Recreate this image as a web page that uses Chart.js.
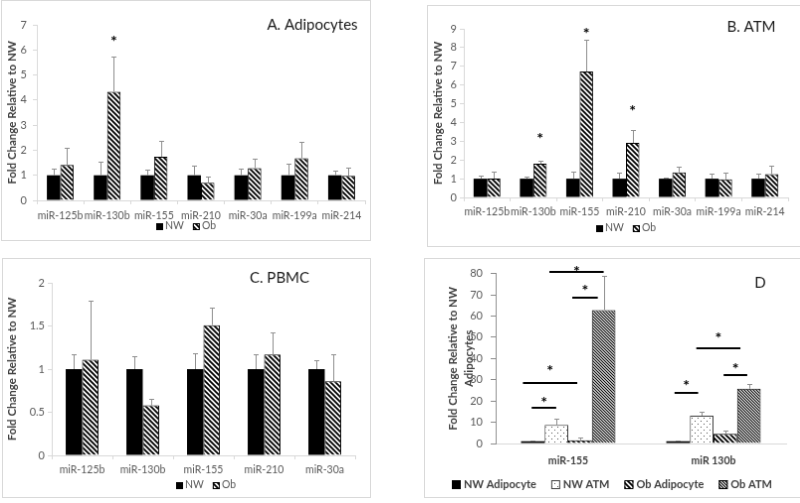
<!DOCTYPE html>
<html>
<head>
<meta charset="utf-8">
<script src="https://cdn.jsdelivr.net/npm/chart.js@4.4.1/dist/chart.umd.min.js"></script>
<style>
  body { margin: 0; background: #fff; width: 800px; height: 503px; overflow: hidden; position: relative; }
  canvas { position: absolute; border: 1px solid #d9d9d9; background: #fff; }
</style>
</head>
<body>
<canvas id="chartA" width="370" height="241" style="left:1px;top:0px"></canvas>
<canvas id="chartB" width="380" height="242" style="left:427px;top:5px"></canvas>
<canvas id="chartC" width="369" height="240" style="left:2px;top:258px"></canvas>
<canvas id="chartD" width="380" height="240" style="left:424px;top:258px"></canvas>
<script>
const FONT = 'Lato, "Open Sans", sans-serif';

// ---- A. Adipocytes ----
const miRsAB = ['miR-125b', 'miR-130b', 'miR-155', 'miR-210', 'miR-30a', 'miR-199a', 'miR-214'];
const adipNW = [1, 1, 1, 1, 1, 1, 1];
const adipNWErr = [1.28, 1.54, 1.21, 1.40, 1.25, 1.45, 1.17];
const adipOb = [1.41, 4.33, 1.74, 0.70, 1.29, 1.68, 0.98];
const adipObErr = [2.09, 5.75, 2.36, 0.93, 1.65, 2.33, 1.32];
const adipStars = [null, 6.49, null, null, null, null, null];
const adipTicks = [0, 1, 2, 3, 4, 5, 6, 7];

// ---- B. ATM ----
const atmNW = [1, 1, 1, 1, 1, 1, 1];
const atmNWErr = [1.16, 1.12, 1.37, 1.30, 1.05, 1.25, 1.29];
const atmOb = [1.00, 1.80, 6.72, 2.91, 1.34, 0.96, 1.25];
const atmObErr = [1.39, 1.95, 8.40, 3.59, 1.64, 1.32, 1.68];
const atmStars = [null, 3.33, 8.95, 4.82, null, null, null];
const atmTicks = [0, 1, 2, 3, 4, 5, 6, 7, 8, 9];

// ---- C. PBMC ----
const miRsC = ['miR-125b', 'miR-130b', 'miR-155', 'miR-210', 'miR-30a'];
const pbmcNW = [1, 1, 1, 1, 1];
const pbmcNWErr = [1.17, 1.15, 1.18, 1.17, 1.10];
const pbmcOb = [1.11, 0.58, 1.51, 1.17, 0.86];
const pbmcObErr = [1.79, 0.66, 1.71, 1.42, 1.17];
const pbmcTicks = [0, 0.5, 1, 1.5, 2];

// ---- D. cell type comparison ----
const dCats = ['miR-155', 'miR 130b'];
const dNWAdip = [1, 1];
const dNWAdipErr = [1.2, 1.6];
const dNWATM = [8.8, 13.1];
const dNWATMErr = [11.9, 15.1];
const dObAdip = [1.5, 4.5];
const dObAdipErr = [2.6, 6.0];
const dObATM = [62.8, 25.8];
const dObATMErr = [78.7, 27.9];
const dTicks = [0, 10, 20, 30, 40, 50, 60, 70, 80];
// significance brackets: [category, from bar, to bar (in bar widths), line value, star value]
const dSig = [
  [0, 0.45, 1.49, 16.8, 21.3],
  [0, 0.08, 2.38, 28.7, 35.9],
  [0, 2.17, 3.25, 68.6, 73.7],
  [0, 1.20, 3.50, 80.9, 82.9],
  [1, 0.35, 1.35, 23.6, 29.0],
  [1, 1.27, 3.14, 45.0, 51.2],
  [1, 2.43, 3.43, 32.4, 36.9]
];

// hatch fills
function stripes(size, lw) {
  const c = document.createElement('canvas');
  c.width = c.height = size;
  const g = c.getContext('2d');
  g.fillStyle = '#fff';
  g.fillRect(0, 0, size, size);
  g.strokeStyle = '#000';
  g.lineWidth = lw;
  g.beginPath();
  for (let k = -size; k <= size; k += size) {
    g.moveTo(k - 1, -1);
    g.lineTo(k + size + 1, size + 1);
  }
  g.stroke();
  return g.createPattern(c, 'repeat');
}
function dots(size) {
  const c = document.createElement('canvas');
  c.width = c.height = size;
  const g = c.getContext('2d');
  g.fillStyle = '#fff';
  g.fillRect(0, 0, size, size);
  g.fillStyle = '#555';
  g.fillRect(1, 1, 1, 1);
  g.fillRect(1 + size / 2, 1 + size / 2, 1, 1);
  return g.createPattern(c, 'repeat');
}
const obFill = stripes(5, 1.8);
const denseFill = stripes(3, 1.1);
const dotFill = dots(6);

// error bars, stars, brackets, panel label and legend
const extras = {
  id: 'extras',
  afterDatasetsDraw(chart, args, o) {
    const ctx = chart.ctx;
    const y = chart.scales.y;
    ctx.save();
    ctx.strokeStyle = '#8f8f8f';
    ctx.lineWidth = 1;
    chart.data.datasets.forEach((ds, di) => {
      if (!ds.err) return;
      chart.getDatasetMeta(di).data.forEach((bar, i) => {
        const x = Math.round(bar.x) + 0.5;
        const top = Math.round(y.getPixelForValue(ds.err[i])) + 0.5;
        ctx.beginPath();
        ctx.moveTo(x, bar.y);
        ctx.lineTo(x, top);
        ctx.moveTo(x - 2.5, top);
        ctx.lineTo(x + 2.5, top);
        ctx.stroke();
      });
    });
    ctx.restore();
  },
  afterDraw(chart, args, o) {
    const ctx = chart.ctx;
    const y = chart.scales.y;
    ctx.save();
    ctx.fillStyle = '#000';
    ctx.textAlign = 'center';
    ctx.textBaseline = 'middle';
    ctx.font = 'bold 16px ' + FONT;
    // stars over single bars
    chart.data.datasets.forEach((ds, di) => {
      if (!ds.stars) return;
      chart.getDatasetMeta(di).data.forEach((bar, i) => {
        if (ds.stars[i] == null) return;
        ctx.fillText('*', bar.x, y.getPixelForValue(ds.stars[i]) + 4);
      });
    });
    // brackets in panel D
    (o.sig || []).forEach(([cat, from, to, val, star]) => {
      const first = chart.getDatasetMeta(0).data[cat];
      const start = first.x - first.width / 2;
      const x1 = start + from * first.width;
      const x2 = start + to * first.width;
      const ly = Math.round(y.getPixelForValue(val));
      ctx.fillRect(x1, ly - 1, x2 - x1, 2);
      ctx.fillText('*', (x1 + x2) / 2, y.getPixelForValue(star) + 4);
    });
    // panel label
    if (o.label) {
      ctx.fillStyle = '#1a1a1a';
      ctx.font = o.label.size + 'px ' + FONT;
      ctx.fillText(o.label.text, o.label.x, o.label.y);
    }
    // legend
    const lg = o.legend;
    ctx.font = (lg.bold ? 'bold ' : '') + lg.size + 'px ' + FONT;
    ctx.textAlign = 'left';
    const items = chart.data.datasets.map(ds => ({ ds, w: lg.box + lg.gap + ctx.measureText(ds.label).width }));
    const total = items.reduce((s, it) => s + it.w, 0) + lg.space * (items.length - 1);
    let lx = Math.round(lg.x - total / 2);
    items.forEach(it => {
      const by = Math.round(lg.y - lg.box / 2);
      ctx.fillStyle = it.ds.backgroundColor;
      ctx.fillRect(lx, by, lg.box, lg.box);
      if (it.ds.borderWidth) {
        ctx.strokeStyle = it.ds.borderColor;
        ctx.lineWidth = 1;
        ctx.strokeRect(lx + 0.5, by + 0.5, lg.box - 1, lg.box - 1);
      }
      ctx.fillStyle = lg.color;
      ctx.fillText(it.ds.label, lx + lg.box + lg.gap, lg.y);
      lx += it.w + lg.space;
    });
    ctx.restore();
  }
};

function panel(id, cfg) {
  const L = cfg.layout;
  return new Chart(document.getElementById(id), {
    type: 'bar',
    data: { labels: cfg.labels, datasets: cfg.datasets },
    options: {
      responsive: false,
      animation: false,
      devicePixelRatio: 1,
      layout: { padding: { left: 0, top: L.top, right: L.right, bottom: 0 } },
      plugins: {
        legend: { display: false },
        tooltip: { enabled: false },
        extras: cfg.extras
      },
      scales: {
        x: {
          grid: { display: L.xTicks, drawOnChartArea: false, drawTicks: L.xTicks, tickLength: 4, color: '#d9d9d9' },
          border: { color: '#d9d9d9' },
          ticks: { color: L.catColor, font: { family: FONT, size: L.catSize, weight: L.catWeight }, padding: L.xPad, maxRotation: 0, autoSkip: false },
          afterFit: s => { s.height = L.xHeight; }
        },
        y: {
          min: cfg.ticks[0],
          max: cfg.ticks[cfg.ticks.length - 1],
          afterBuildTicks: s => { s.ticks = cfg.ticks.map(v => ({ value: v })); },
          grid: { drawOnChartArea: false, tickLength: L.yTick, color: L.yColor },
          border: { color: L.yColor },
          ticks: { color: '#595959', font: { family: FONT, size: L.tickSize }, padding: L.yPad, callback: v => String(v) },
          title: {
            display: true,
            text: cfg.yTitle,
            color: '#404040',
            font: { family: FONT, size: 11.5, weight: 'bold', lineHeight: 1.45 },
            padding: { top: L.titlePad, bottom: 0 }
          },
          afterFit: s => { s.width = L.yWidth; }
        }
      }
    },
    plugins: [extras]
  });
}

const abcLegend = { size: 10.5, box: 7, gap: 2, space: 9, color: '#595959' };

panel('chartA', {
  labels: miRsAB,
  ticks: adipTicks,
  yTitle: 'Fold Change Relative to NW',
  datasets: [
    { label: 'NW', data: adipNW, err: adipNWErr, backgroundColor: '#000', borderWidth: 0, categoryPercentage: 0.573, barPercentage: 1 },
    { label: 'Ob', data: adipOb, err: adipObErr, stars: adipStars, backgroundColor: obFill, borderColor: '#000', borderWidth: 1, categoryPercentage: 0.573, barPercentage: 1 }
  ],
  layout: { top: 24, right: 5, yWidth: 35, xHeight: 40, yTick: 4, yPad: 6, xPad: 5, xTicks: true, yColor: '#d9d9d9',
            catSize: 10.5, catWeight: 'normal', catColor: '#595959', tickSize: 11, titlePad: 1.5 },
  extras: {
    label: { text: 'A. Adipocytes', x: 312, y: 24, size: 15 },
    legend: Object.assign({ x: 185, y: 227 }, abcLegend)
  }
});

panel('chartB', {
  labels: miRsAB,
  ticks: atmTicks,
  yTitle: 'Fold Change Relative to NW',
  datasets: [
    { label: 'NW', data: atmNW, err: atmNWErr, backgroundColor: '#000', borderWidth: 0, categoryPercentage: 0.58, barPercentage: 1 },
    { label: 'Ob', data: atmOb, err: atmObErr, stars: atmStars, backgroundColor: obFill, borderColor: '#000', borderWidth: 1, categoryPercentage: 0.58, barPercentage: 1 }
  ],
  layout: { top: 23, right: 18, yWidth: 36, xHeight: 49, yTick: 4, yPad: 3, xPad: 4, xTicks: true, yColor: '#d9d9d9',
            catSize: 10.5, catWeight: 'normal', catColor: '#595959', tickSize: 11, titlePad: 1.5 },
  extras: {
    label: { text: 'B. ATM', x: 325, y: 21, size: 15 },
    legend: Object.assign({ x: 199, y: 224 }, abcLegend)
  }
});

panel('chartC', {
  labels: miRsC,
  ticks: pbmcTicks,
  yTitle: 'Fold Change Relative to NW',
  datasets: [
    { label: 'NW', data: pbmcNW, err: pbmcNWErr, backgroundColor: '#000', borderWidth: 0, categoryPercentage: 0.54, barPercentage: 1 },
    { label: 'Ob', data: pbmcOb, err: pbmcObErr, backgroundColor: obFill, borderColor: '#000', borderWidth: 1, categoryPercentage: 0.54, barPercentage: 1 }
  ],
  layout: { top: 24, right: 15, yWidth: 49, xHeight: 42, yTick: 4, yPad: 3, xPad: 4, xTicks: true, yColor: '#d9d9d9',
            catSize: 10.5, catWeight: 'normal', catColor: '#595959', tickSize: 11, titlePad: 0.5 },
  extras: {
    label: { text: 'C. PBMC', x: 278, y: 19, size: 15 },
    legend: Object.assign({ x: 204, y: 228 }, abcLegend)
  }
});

panel('chartD', {
  labels: dCats,
  ticks: dTicks,
  yTitle: ['Fold Change Relative to NW', 'Adipocytes'],
  datasets: [
    { label: 'NW Adipocyte', data: dNWAdip, err: dNWAdipErr, backgroundColor: '#000', borderWidth: 0, categoryPercentage: 0.65, barPercentage: 1 },
    { label: 'NW ATM', data: dNWATM, err: dNWATMErr, backgroundColor: dotFill, borderColor: '#404040', borderWidth: 1, categoryPercentage: 0.65, barPercentage: 1 },
    { label: 'Ob Adipocyte', data: dObAdip, err: dObAdipErr, backgroundColor: obFill, borderColor: '#000', borderWidth: 1, categoryPercentage: 0.65, barPercentage: 1 },
    { label: 'Ob ATM', data: dObATM, err: dObATMErr, backgroundColor: denseFill, borderColor: '#000', borderWidth: 1, categoryPercentage: 0.65, barPercentage: 1 }
  ],
  layout: { top: 13, right: 17, yWidth: 71, xHeight: 54, yTick: 5, yPad: 8, xPad: 11, xTicks: false, yColor: '#8c8c8c',
            catSize: 10.5, catWeight: 'bold', catColor: '#404040', tickSize: 11, titlePad: 19.5 },
  extras: {
    sig: dSig,
    label: { text: 'D', x: 337, y: 24, size: 15 },
    legend: { x: 188, y: 227, size: 11, bold: true, box: 9, gap: 3, space: 15, color: '#404040' }
  }
});
</script>
</body>
</html>
